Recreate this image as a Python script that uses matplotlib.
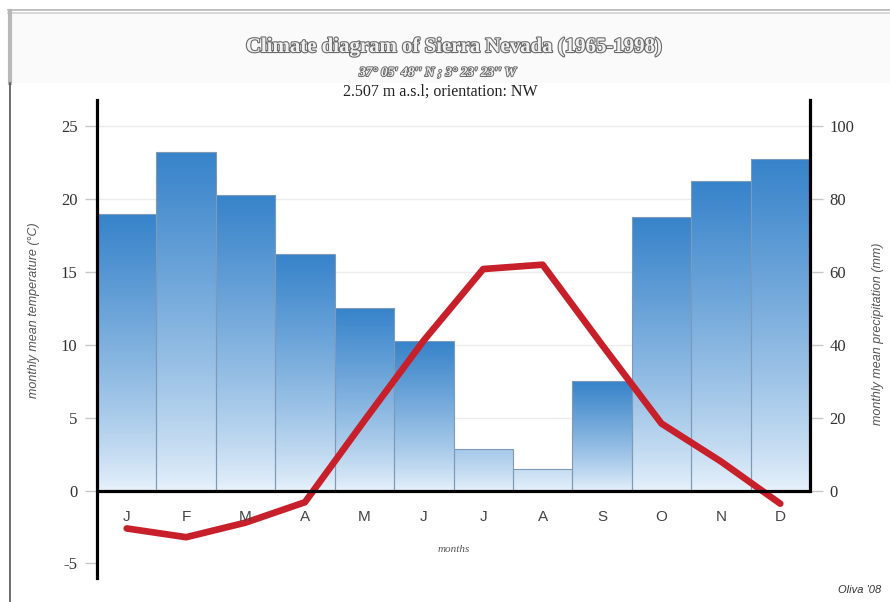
import numpy as np
import matplotlib
matplotlib.use("Agg")
import matplotlib.pyplot as plt
from matplotlib import patheffects as pe
from matplotlib.colors import to_rgb
from matplotlib.lines import Line2D
from matplotlib.patches import Rectangle

# Monthly climate data, Sierra Nevada
months = ["J", "F", "M", "A", "M", "J", "J", "A", "S", "O", "N", "D"]
precip_mm = [76, 93, 81, 65, 50, 41, 11.5, 6, 30, 75, 85, 91]
temp_c = [-2.6, -3.2, -2.2, -0.8, 4.8, 10.3, 15.2, 15.5, 10.0, 4.6, 2.0, -0.9]
temp_ticks = [-5, 0, 5, 10, 15, 20, 25]
precip_ticks = [0, 20, 40, 60, 80, 100]

title = "Climate diagram of Sierra Nevada (1965-1998)"
coords = "37° 05' 48'' N ; 3° 23' 23'' W"
site = "2.507 m a.s.l; orientation: NW"

T_MIN, T_MAX = -6.0, 26.8
MM_PER_DEG = 4.0

fig = plt.figure(figsize=(8.9, 6.02), dpi=100)
fig.patch.set_facecolor("white")

# header band and frame
fig.patches.append(Rectangle((12 / 890, 1 - 83 / 602), 1, 69 / 602,
                             transform=fig.transFigure, facecolor="#fafafa",
                             edgecolor="none", zorder=0))
for yy, c, lw in [(10, "#b5b5b5", 1.2), (13, "#d0d0d0", 1.2)]:
    fig.add_artist(Line2D([8 / 890, 1], [1 - yy / 602] * 2, transform=fig.transFigure,
                          color=c, lw=lw))
fig.add_artist(Line2D([10 / 890] * 2, [1 - 11 / 602, 1 - 83 / 602], transform=fig.transFigure,
                      color="#b8b8b8", lw=3))
fig.add_artist(Line2D([10 / 890] * 2, [0, 1 - 83 / 602], transform=fig.transFigure,
                      color="#555555", lw=1.2))

ax = fig.add_axes([97 / 890, 24 / 602, 713 / 890, 478 / 602])
ax2 = ax.twinx()
ax.set_zorder(ax2.get_zorder() + 1)
ax.patch.set_visible(False)

x = np.arange(len(months))
ax.set_xlim(-0.5, len(months) - 0.5)
ax.set_ylim(T_MIN, T_MAX)

# precipitation bars with vertical gradient
dark = np.array(to_rgb("#3783ca"))
pale = np.array(to_rgb("#e9f3fc"))
bars = ax2.bar(x, precip_mm, width=1.0, color="none", edgecolor="#7d9bb8",
               linewidth=0.8, zorder=2)
for bar, h in zip(bars, precip_mm):
    strength = min(1.0, h / 30.0)
    top = pale + (dark - pale) * strength
    t = np.linspace(0, 1, 256)[:, None] ** 0.8
    grad = pale[None, :] * (1 - t) + top[None, :] * t
    img = np.repeat(grad[:, None, :], 2, axis=1)
    x0 = bar.get_x()
    im = ax2.imshow(img, extent=[x0, x0 + bar.get_width(), 0, h], origin="lower",
                    aspect="auto", zorder=1.5, interpolation="bilinear")
    im.set_clip_path(bar)
ax2.set_xlim(-0.5, len(months) - 0.5)
ax2.set_ylim(T_MIN * MM_PER_DEG, T_MAX * MM_PER_DEG)

# light horizontal guides
ax2.set_axisbelow(True)
for v in precip_ticks[1:]:
    ax2.axhline(v, color="#ececec", lw=1.0, zorder=0.5)

# temperature curve
ax.plot(x, temp_c, color="#c8202a", lw=4.8, solid_joinstyle="round",
        solid_capstyle="round", zorder=5)

# zero line
ax.axhline(0, color="black", lw=2.3, zorder=6)

# spines
for s in ["top", "bottom", "right"]:
    ax.spines[s].set_visible(False)
ax.spines["left"].set_linewidth(2.3)
ax.spines["left"].set_color("black")
for s in ["top", "bottom", "left"]:
    ax2.spines[s].set_visible(False)
ax2.spines["right"].set_linewidth(2.3)
ax2.spines["right"].set_color("black")
ax2.spines["right"].set_bounds(0, T_MAX * MM_PER_DEG)

serif = "Liberation Serif"
sans = "Liberation Sans"

ax.set_yticks(temp_ticks)
ax.set_yticklabels([str(v) for v in temp_ticks], fontfamily=serif, fontsize=12, color="#333333")
ax.tick_params(axis="y", which="both", length=9, width=1, color="#c8c8c8", pad=5)
ax.set_xticks([])
ax2.set_yticks(precip_ticks)
ax2.set_yticklabels([str(v) for v in precip_ticks], fontfamily=serif, fontsize=12, color="#333333")
ax2.tick_params(axis="y", which="both", length=9, width=1, color="#c8c8c8", pad=5)
ax2.set_xticks([])

ax.set_ylabel("monthly mean temperature (°C)", fontfamily=sans, fontstyle="italic",
              fontsize=9, color="#555555")
ax.yaxis.set_label_coords(-0.08, 0.56)
ax2.set_ylabel("monthly mean precipitation (mm)", fontfamily=sans, fontstyle="italic",
               fontsize=9, color="#555555")
ax2.yaxis.set_label_coords(1.087, 0.51)

# month letters below the zero line
for xi, m in zip(x, months):
    ax.annotate(m, (xi, 0), xytext=(0, -19), textcoords="offset points",
                ha="center", va="center", fontfamily=sans, fontsize=11,
                color="#444444", zorder=7)

ax.text(0.5, (578 - 550) / 478, "months", transform=ax.transAxes, ha="center", va="center",
        fontfamily=serif, fontstyle="italic", fontsize=8, color="#555555")

fig.text(860 / 890, 1 - 590 / 602, "Oliva '08", ha="center", va="center",
         fontfamily=sans, fontstyle="italic", fontsize=8, color="#333333")

# header text
fig.text(454 / 890, 1 - 47 / 602, title, ha="center", va="center", fontfamily=serif,
         fontweight="bold", fontsize=15, color="#f2f2f2",
         path_effects=[pe.withStroke(linewidth=1.6, foreground="#6a6a6a")])
fig.text(438 / 890, 1 - 73 / 602, coords, ha="center", va="center", fontfamily=serif,
         fontweight="bold", fontstyle="italic", fontsize=9.5, color="#f2f2f2",
         path_effects=[pe.withStroke(linewidth=1.4, foreground="#6a6a6a")])
fig.text(440 / 890, 1 - 92 / 602, site, ha="center", va="center", fontfamily=serif,
         fontsize=11.5, color="#222222")

fig.savefig("out.png", dpi=100, facecolor="white")
